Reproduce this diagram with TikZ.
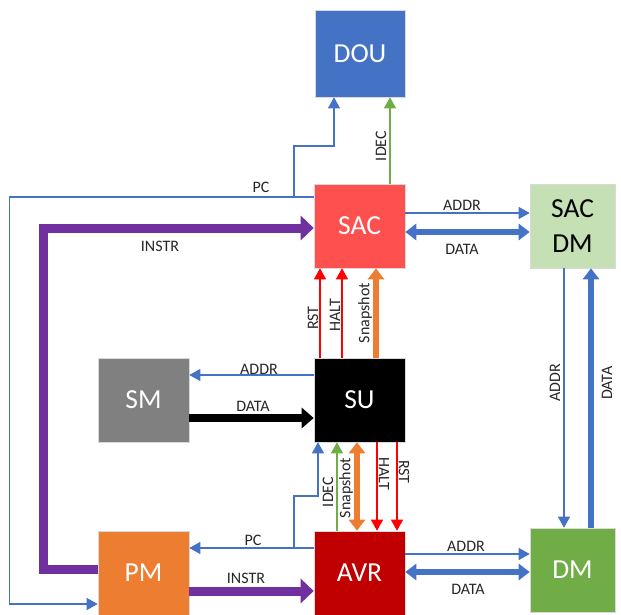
\documentclass[tikz,border=0pt]{standalone}
\usepackage{fontspec}
\setmainfont{Carlito}
\usetikzlibrary{arrows.meta}
\definecolor{cblue}{HTML}{4472C4}
\definecolor{csac}{HTML}{FF5050}
\definecolor{csacdm}{HTML}{C5E0B4}
\definecolor{cgray}{HTML}{808080}
\definecolor{corange}{HTML}{ED7D31}
\definecolor{cavr}{HTML}{C00000}
\definecolor{cgreen}{HTML}{70AD47}
\definecolor{cpurple}{HTML}{7030A0}
\definecolor{cred}{HTML}{FF0000}
\tikzset{
  blk/.style={rectangle, draw=white!70!gray, line width=0.6pt, inner sep=0pt,
    text=white, font=\fontsize{27.5}{35}\selectfont, align=center},
  lbl/.style={font=\fontsize{16}{17}\selectfont, inner sep=1pt, text=black!85},
  thinarr/.style={-{Triangle[width=12pt,length=11pt]}, line width=1.1pt},
  thickblue/.style={cblue, line width=5.5pt, {Triangle[width=16pt,length=11pt]}-{Triangle[width=16pt,length=11pt]}},
  thickup/.style={line width=5.5pt, -{Triangle[width=16pt,length=11pt]}},
}
\begin{document}
\begin{tikzpicture}[x=1pt,y=-1pt]
\useasboundingbox (0,0) rectangle (621,615);
% blocks
\node[blk, fill=cblue, minimum width=90pt, minimum height=87pt] (DOU) at (360,53.5) {DOU};
\node[blk, fill=csac, minimum width=91pt, minimum height=84pt] (SAC) at (359.5,226) {SAC};
\node[blk, fill=csacdm, text=black, minimum width=85pt, minimum height=84pt] (SACDM) at (572.5,226) {SAC\\DM};
\node[blk, fill=cgray, minimum width=91pt, minimum height=84pt] (SM) at (143.5,400) {SM};
\node[blk, fill=black, minimum width=91pt, minimum height=84pt] (SU) at (359.5,400) {SU};
\node[blk, fill=corange, minimum width=91pt, minimum height=84pt] (PM) at (143.5,573) {PM};
\node[blk, fill=cavr, minimum width=91pt, minimum height=84pt] (AVR) at (359.5,573) {AVR};
\node[blk, fill=cgreen, minimum width=85pt, minimum height=84pt] (DM) at (572.5,570) {DM};

% PC from SAC to PM and DOU
\coordinate (pcA) at (9.5,197);
\coordinate (pcB) at (9.5,604);
\coordinate (pcJ) at (294,197);
\coordinate (pcK) at (294,146);
\draw[thinarr, cblue] ([yshift=29pt]SAC.west) -- (pcA) -- (pcB) -- ([yshift=-31pt]PM.west);
\draw[thinarr, cblue] (pcJ) -- (pcK) -| ([xshift=-26pt]DOU.south);
\node[lbl] (lpc1) at (261,187) {PC};
% IDEC SAC -> DOU
\draw[thinarr, cgreen] ([xshift=30.5pt]SAC.north) -- ([xshift=30pt]DOU.south);
\node[lbl, rotate=90] (lidec1) at (381,146) {IDEC};
% INSTR PM -> SAC
\coordinate (inA) at (43.5,569);
\coordinate (inB) at (43.5,228);
\draw[cpurple, line width=9pt, -{Triangle[width=24pt,length=13pt]}] ([yshift=4pt]PM.west) -- (inA) -- (inB) -- ([yshift=-2pt]SAC.west);
\node[lbl] (linstr1) at (160,246) {INSTR};
% SAC <-> SAC DM
\draw[thinarr, cblue] ([yshift=13pt]SAC.east) -- ([yshift=13pt]SACDM.west);
\node[lbl] (laddr1) at (462,205) {ADDR};
\draw[thickblue] ([yshift=-6pt]SAC.east) -- ([yshift=-6pt]SACDM.west);
\node[lbl] (ldata1) at (462,249) {DATA};
% SU -> SAC
\draw[thinarr, cred] ([xshift=-39.5pt]SU.north) -- ([xshift=-39.5pt]SAC.south);
\draw[thinarr, cred] ([xshift=-17.5pt]SU.north) -- ([xshift=-17.5pt]SAC.south);
\draw[thickup, corange] ([xshift=16.5pt]SU.north) -- ([xshift=16.5pt]SAC.south);
\node[lbl, rotate=90] (lrst1) at (313,318) {RST};
\node[lbl, rotate=90] (lhalt1) at (335,315) {HALT};
\node[lbl, rotate=90] (lsnap1) at (365,313) {Snapshot};
% SU <-> SM
\draw[thinarr, cblue] ([yshift=25pt]SU.west) -- ([yshift=25pt]SM.east);
\node[lbl] (laddr2) at (259,369) {ADDR};
\draw[black, line width=8pt, -{Triangle[width=20pt,length=12pt]}] ([yshift=-18pt]SM.east) -- ([yshift=-18pt]SU.west);
\node[lbl] (ldata2) at (253,406) {DATA};
% AVR -> PM (PC) and branch to SU
\coordinate (pcM) at (294,548);
\coordinate (pcN) at (294,496);
\draw[thinarr, cblue] ([yshift=25pt]AVR.west) -- ([yshift=25pt]PM.east);
\draw[thinarr, cblue] (pcM) -- (pcN) -| ([xshift=-41.5pt]SU.south);
\node[lbl] (lpc2) at (253,540) {PC};
% AVR <-> SU
\draw[thinarr, cgreen] ([xshift=-22.5pt]AVR.north) -- ([xshift=-22.5pt]SU.south);
\node[lbl, rotate=90] (lidec2) at (328,492) {IDEC};
\draw[corange, line width=5.5pt, {Triangle[width=16pt,length=11pt]}-{Triangle[width=16pt,length=11pt]}] ([xshift=-2.5pt]SU.south) -- ([xshift=-2.5pt]AVR.north);
\node[lbl, rotate=90] (lsnap2) at (346,488) {Snapshot};
\draw[thinarr, cred] ([xshift=17.5pt]SU.south) -- ([xshift=17.5pt]AVR.north);
\draw[thinarr, cred] ([xshift=37.5pt]SU.south) -- ([xshift=37.5pt]AVR.north);
\node[lbl, rotate=-90] (lhalt2) at (384,474) {HALT};
\node[lbl, rotate=-90] (lrst2) at (404,472) {RST};
% PM -> AVR INSTR
\draw[cpurple, line width=9pt, -{Triangle[width=24pt,length=13pt]}] ([yshift=-18pt]PM.east) -- ([yshift=-18pt]AVR.west);
\node[lbl] (linstr2) at (246,578) {INSTR};
% AVR <-> DM
\draw[thinarr, cblue] ([yshift=19pt]AVR.east) -- ([yshift=16pt]DM.west);
\node[lbl] (laddr3) at (466,546) {ADDR};
\draw[thickblue] ([yshift=1pt]AVR.east) -- ([yshift=-2pt]DM.west);
\node[lbl] (ldata3) at (468,589) {DATA};
% SAC DM <-> DM
\draw[thinarr, cblue] ([xshift=-8.5pt]SACDM.south) -- ([xshift=-8.5pt]DM.north);
\node[lbl, rotate=90] (laddr4) at (555,383) {ADDR};
\draw[thickup, cblue] ([xshift=18.5pt]DM.north) -- ([xshift=18.5pt]SACDM.south);
\node[lbl, rotate=90] (ldata4) at (607,383) {DATA};
\end{tikzpicture}
\end{document}
